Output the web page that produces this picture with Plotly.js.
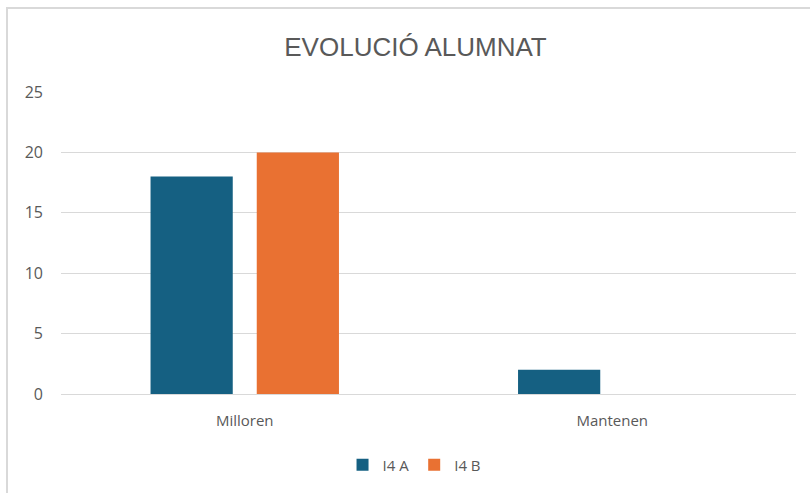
<!DOCTYPE html>
<html><head><meta charset="utf-8">
<script src="https://cdn.plot.ly/plotly-3.0.1.min.js"></script>
<style>
html,body{margin:0;padding:0;background:#fff;}
#wrap{position:relative;width:810px;height:493px;overflow:hidden;}
#chart{position:absolute;left:0;top:0;width:810px;height:493px;}
#frame{position:absolute;left:6px;top:7px;width:820px;height:500px;border-left:2px solid #d9d9d9;border-top:2px solid #d9d9d9;pointer-events:none;}
</style></head>
<body><div id="wrap"><div id="chart"></div><div id="frame"></div></div>
<script>
const categories = ["Milloren", "Mantenen"];
const seriesNames = ["I4 A", "I4 B"];
const valuesA = [18, 2];
const valuesB = [20, 0];
const yTicks = [0, 5, 10, 15, 20, 25];
const titleText = "EVOLUCIÓ ALUMNAT";

const colors = ["#156082", "#E97132"];
const traces = [valuesA, valuesB].map((v, i) => ({
  type: "bar", x: categories, y: v, name: seriesNames[i],
  marker: {color: colors[i], line: {width: 0}}, hoverinfo: "skip"
}));

const layout = {
  width: 810, height: 493,
  margin: {l: 61, r: 14, t: 92, b: 99, pad: 0},
  paper_bgcolor: "#ffffff", plot_bgcolor: "#ffffff",
  title: {text: titleText, x: 0.513, xanchor: "center", y: 1 - 47/493, yanchor: "middle",
          font: {family: "Liberation Sans Narrow, Arial Narrow, Liberation Sans, sans-serif", size: 26, color: "#595959"}},
  barmode: "group", bargap: 0.422, bargroupgap: 0.226,
  font: {family: "Open Sans, sans-serif", size: 15, color: "#595959"},
  xaxis: {showgrid: false, zeroline: false, showline: true, linecolor: "#d9d9d9", linewidth: 1,
          ticks: "", ticklabelstandoff: 13, tickfont: {size: 15, color: "#595959"}},
  yaxis: {range: [0, 25], tickvals: yTicks, showgrid: true, gridcolor: "#d9d9d9", gridwidth: 1,
          zeroline: false, showline: false, ticks: "", ticklabelstandoff: 17,
          tickfont: {size: 16, color: "#595959"}},
  showlegend: true,
  legend: {orientation: "h", x: 0.481, xanchor: "center", y: -0.235, yanchor: "middle",
           font: {size: 15, color: "#595959"}, itemwidth: 30, traceorder: "normal"}
};
Plotly.newPlot("chart", traces, layout, {staticPlot: true, displayModeBar: false});
</script></body></html>
